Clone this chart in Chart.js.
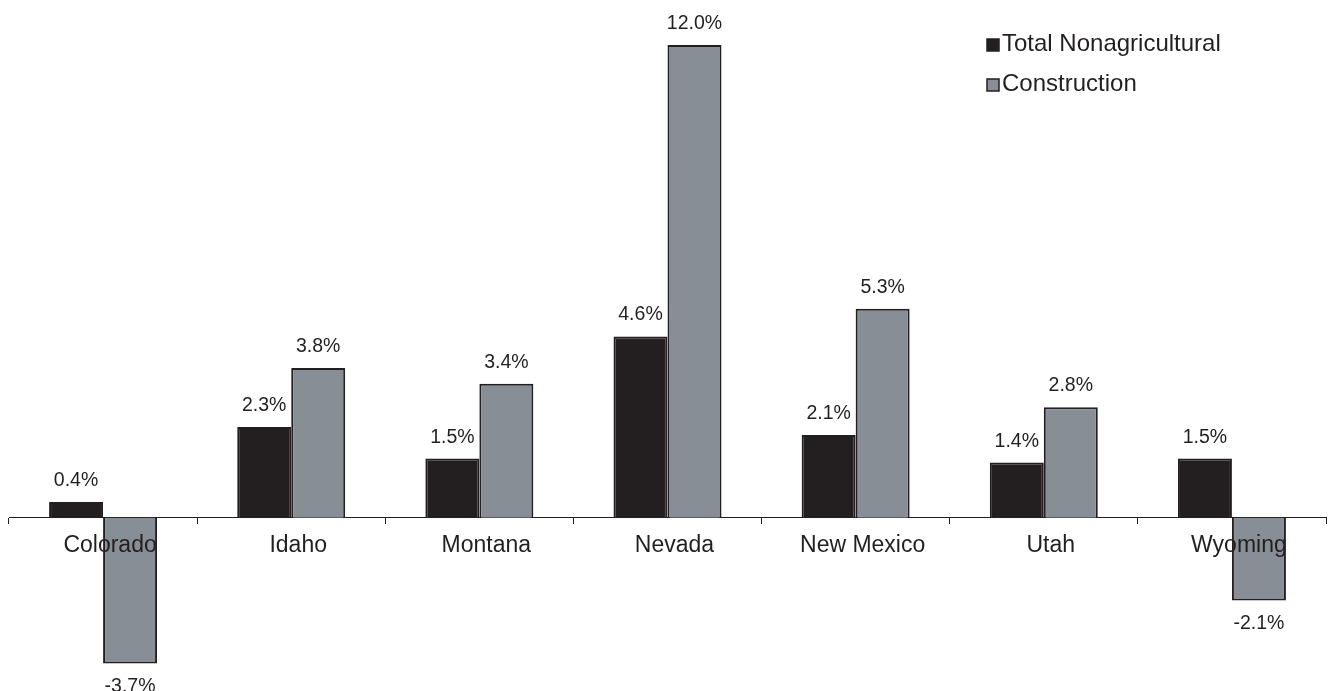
<!DOCTYPE html>
<html>
<head>
<meta charset="utf-8">
<title>Employment growth by state</title>
<script src="https://cdn.jsdelivr.net/npm/chart.js@4/dist/chart.umd.min.js"></script>
<style>
  html, body { margin: 0; padding: 0; background: #ffffff; }
  #wrap { width: 1328px; height: 691px; }
</style>
</head>
<body>
<div id="wrap"><canvas id="chart" width="1328" height="691"></canvas></div>
<script>
// Year-over-year employment change, per cent
const categories = ['Colorado', 'Idaho', 'Montana', 'Nevada', 'New Mexico', 'Utah', 'Wyoming'];
const seriesNames = ['Total Nonagricultural', 'Construction'];
const totalNonag = [0.4, 2.3, 1.5, 4.6, 2.1, 1.4, 1.5];
const construction = [-3.7, 3.8, 3.4, 12.0, 5.3, 2.8, -2.1];

const INK = '#231f20';
const GREY = '#888e95';
const FONT = '"Liberation Sans", Arial, sans-serif';

// Percentage labels above positive bars and below negative ones
const valueLabels = {
  id: 'valueLabels',
  afterDatasetsDraw(chart) {
    const ctx = chart.ctx;
    ctx.save();
    ctx.font = '19.5px ' + FONT;
    ctx.fillStyle = INK;
    ctx.textAlign = 'center';
    ctx.textBaseline = 'alphabetic';
    chart.data.datasets.forEach((ds, di) => {
      chart.getDatasetMeta(di).data.forEach((bar, i) => {
        const v = ds.data[i];
        const txt = v.toFixed(1) + '%';
        const y = v >= 0 ? bar.y - 16 : bar.y + 29;
        ctx.fillText(txt, bar.x, y);
      });
    });
    ctx.restore();
  }
};

// Stacked legend in the upper right
const stackedLegend = {
  id: 'stackedLegend',
  afterDraw(chart) {
    const ctx = chart.ctx;
    ctx.save();
    ctx.font = '24px ' + FONT;
    ctx.textBaseline = 'alphabetic';
    ctx.textAlign = 'left';
    chart.data.datasets.forEach((ds, di) => {
      const baseY = 51 + di * 40;
      ctx.fillStyle = ds.backgroundColor;
      ctx.fillRect(987, baseY - 12, 12, 12);
      ctx.strokeStyle = INK;
      ctx.lineWidth = 1.5;
      ctx.strokeRect(987, baseY - 12, 12, 12);
      ctx.fillStyle = INK;
      ctx.fillText(ds.label, 1002, baseY);
    });
    ctx.restore();
  }
};

new Chart(document.getElementById('chart'), {
  type: 'bar',
  data: {
    labels: categories,
    datasets: [
      { label: seriesNames[0], data: totalNonag, backgroundColor: INK, borderColor: INK, borderWidth: 2 },
      { label: seriesNames[1], data: construction, backgroundColor: GREY, borderColor: INK, borderWidth: 2 }
    ]
  },
  options: {
    responsive: false,
    animation: false,
    layout: { padding: { left: 9, right: 2, top: 0, bottom: 0 } },
    datasets: { bar: { categoryPercentage: 0.574, barPercentage: 1 } },
    scales: {
      x: {
        position: { y: 0 },
        grid: { drawOnChartArea: false, drawTicks: true, tickLength: 6, color: INK, lineWidth: 1, offset: true },
        border: { display: true, color: INK, width: 1 },
        ticks: { z: 1, color: INK, font: { family: FONT, size: 23 }, padding: 8, labelOffset: 7, maxRotation: 0, autoSkip: false },
        afterFit(scale) { scale.height = 0; }
      },
      y: { display: false, min: -4.40, max: 13.14 }
    },
    plugins: { legend: { display: false }, tooltip: { enabled: false } }
  },
  plugins: [valueLabels, stackedLegend]
});
</script>
</body>
</html>
